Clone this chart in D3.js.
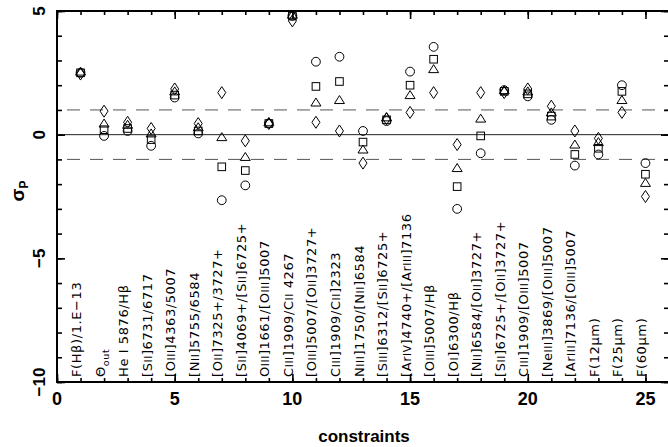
<!DOCTYPE html>
<html>
<head>
<meta charset="utf-8">
<script src="https://cdn.jsdelivr.net/npm/d3@7"></script>
<style>
  body { margin: 0; background: #fff; }
  svg { display: block; font-family: "Liberation Sans", Arial, sans-serif; }
</style>
</head>
<body>
<div id="chart"></div>
<script>
// constraint index 1..25, label for each (braces = small roman numerals, _{} = subscript)
var constraints = d3.range(1, 26);
var labels = [
    "F(Hβ)/1.E−13",
    "Θ_{out}",
    "He I 5876/Hβ",
    "[S{II}]6731/6717",
    "[O{III}]4363/5007",
    "[N{II}]5755/6584",
    "[O{II}]7325+/3727+",
    "[S{II}]4069+/[S{II}]6725+",
    "O{III}]1661/[O{III}]5007",
    "C{III}]1909/C{II} 4267",
    "[O{III}]5007/[O{II}]3727+",
    "C{III}]1909/C{II}]2323",
    "N{III}]1750/[N{II}]6584",
    "[S{III}]6312/[S{II}]6725+",
    "[Ar{IV}]4740+/[Ar{III}]7136",
    "[O{III}]5007/Hβ",
    "[O{I}]6300/Hβ",
    "[N{II}]6584/[O{II}]3727+",
    "[S{II}]6725+/[O{II}]3727+",
    "C{III}]1909/[O{III}]5007",
    "[Ne{III}]3869/[O{III}]5007",
    "[Ar{III}]7136/[O{III}]5007",
    "F(12μm)",
    "F(25μm)",
    "F(60μm)"
];

// sigma_P values for the four models
var circleVals   = [2.5, -0.05, 0.15, -0.45, 1.5, 0.05, -2.65, -2.05, 0.45, 4.8, 2.95, 3.15, 0.15, 0.55, 2.55, 3.55, -3.0, -0.75, 1.8, 1.55, 0.6, -1.25, -0.8, 2.0, -1.15];
var squareVals   = [2.5, 0.2, 0.25, -0.2, 1.6, 0.15, -1.3, -1.45, 0.45, 4.8, 1.95, 2.15, -0.3, 0.6, 2.0, 3.05, -2.1, -0.05, 1.75, 1.65, 0.75, -0.8, -0.55, 1.75, -1.6];
var triangleVals = [2.55, 0.45, 0.4, 0.05, 1.75, 0.3, -0.1, -0.9, 0.5, 4.85, 1.3, 1.4, -0.6, 0.7, 1.6, 2.65, -1.35, 0.65, 1.8, 1.75, 0.9, -0.4, -0.3, 1.4, -1.95];
var diamondVals  = [2.45, 0.95, 0.5, 0.25, 1.85, 0.45, 1.7, -0.25, 0.45, 4.6, 0.5, 0.15, -1.15, 0.65, 0.9, 1.7, -0.4, 1.7, 1.7, 1.85, 1.15, 0.15, -0.15, 0.9, -2.5];

var xTicks = [0, 5, 10, 15, 20, 25];
var yTicks = [5, 0, -5, -10];
var refLines = [-1, 1];

var svgWidth = 668;
var svgHeight = 447;
var margin = { top: 11, right: -1, bottom: 65, left: 57 };

var svg = d3.select("#chart")
    .append("svg")
    .attr("width", svgWidth)
    .attr("height", svgHeight);

var x = d3.scaleLinear().domain([0, 26]).range([margin.left, svgWidth - margin.right]);
var y = d3.scaleLinear().domain([-10, 5]).range([svgHeight - margin.bottom, margin.top]);

var x0 = x.range()[0], x1 = x.range()[1];
var y0 = y.range()[0], y1 = y.range()[1];

// reference lines
svg.selectAll(".dash")
    .data(refLines)
    .enter()
    .append("line")
    .attr("x1", x0).attr("x2", x1)
    .attr("y1", d => y(d)).attr("y2", d => y(d))
    .attr("stroke", "#555")
    .attr("stroke-width", 1)
    .attr("stroke-dasharray", "13,10")
    .attr("stroke-dashoffset", -10);

svg.append("line")
    .attr("x1", x0).attr("x2", x1)
    .attr("y1", y(0)).attr("y2", y(0))
    .attr("stroke", "#222")
    .attr("stroke-width", 1);

// axes: minor + major ticks, all pointing inward
function tickAxis(axis, vals, size) {
    return axis.tickValues(vals).tickSize(size).tickFormat("");
}
var minorX = d3.range(0, 27), minorY = d3.range(-10, 6);
var majorY = [-10, -5, 0, 5];

[[d3.axisBottom, y0, minorX, -4], [d3.axisBottom, y0, xTicks, -8],
 [d3.axisTop, y1, minorX, -4], [d3.axisTop, y1, xTicks, -8]].forEach(function(a) {
    svg.append("g")
        .attr("transform", `translate(0, ${a[1]})`)
        .call(tickAxis(a[0](x), a[2], a[3]))
        .call(g => g.select(".domain").remove())
        .selectAll("line").attr("stroke-width", 1.6);
});
[[d3.axisLeft, x0, minorY, -5], [d3.axisLeft, x0, majorY, -8],
 [d3.axisRight, x1, minorY, -5], [d3.axisRight, x1, majorY, -8]].forEach(function(a) {
    svg.append("g")
        .attr("transform", `translate(${a[1]}, 0)`)
        .call(tickAxis(a[0](y), a[2], a[3]))
        .call(g => g.select(".domain").remove())
        .selectAll("line").attr("stroke-width", 1.6);
});

svg.append("rect")
    .attr("x", x0).attr("y", y1)
    .attr("width", x1 - x0).attr("height", y0 - y1)
    .attr("fill", "none")
    .attr("stroke", "#000")
    .attr("stroke-width", 2);

// tick labels
svg.selectAll(".xlab")
    .data(xTicks)
    .enter()
    .append("text")
    .attr("x", d => x(d))
    .attr("y", y0 + 23)
    .attr("text-anchor", "middle")
    .attr("font-size", 18)
    .attr("font-weight", "bold")
    .text(d => d);

svg.selectAll(".ylab")
    .data(yTicks)
    .enter()
    .append("text")
    .attr("transform", d => `translate(${x0 - 12}, ${y(d)}) rotate(-90)`)
    .attr("text-anchor", "middle")
    .attr("font-size", 17)
    .attr("font-weight", "bold")
    .text(d => d < 0 ? "\u2212" + Math.abs(d) : d);

// axis titles
svg.append("text")
    .attr("x", 364)
    .attr("y", 442)
    .attr("text-anchor", "middle")
    .attr("font-size", 17)
    .attr("font-weight", "bold")
    .text("constraints");

var yTitle = svg.append("text")
    .attr("transform", "translate(24, 191) rotate(-90)")
    .attr("text-anchor", "middle")
    .attr("font-size", 19)
    .attr("font-weight", "bold");
yTitle.append("tspan").text("σ");
yTitle.append("tspan").attr("font-size", 12).attr("dy", 4).text("P");

// constraint labels, vertical
function addRich(sel, str) {
    var parts = str.split(/(_\{[^}]*\}|\{[^}]*\})/);
    parts.forEach(function(p) {
        if (!p) return;
        if (p[0] === "_") {
            sel.append("tspan").attr("font-size", 9.5).attr("dy", 4).text(p.slice(2, -1));
        } else if (p[0] === "{") {
            sel.append("tspan").attr("font-size", 10.5).text(p.slice(1, -1));
        } else {
            sel.append("tspan").text(p);
        }
    });
}

svg.selectAll(".clab")
    .data(constraints)
    .enter()
    .append("text")
    .attr("transform", d => `translate(${x(d) + 0.5}, ${y0 - 5}) rotate(-90)`)
    .attr("font-family", "DejaVu Sans, sans-serif")
    .attr("font-size", 13)
    .attr("letter-spacing", 0.6)
    .attr("fill", "#000")
    .each(function(d, i) { addRich(d3.select(this), labels[i]); });

// markers
var mk = svg.append("g")
    .attr("fill", "none")
    .attr("stroke", "#000")
    .attr("stroke-width", 1);

mk.selectAll(".c")
    .data(circleVals)
    .enter()
    .append("circle")
    .attr("cx", (d, i) => x(constraints[i]))
    .attr("cy", d => y(d))
    .attr("r", 4.4);

mk.selectAll(".s")
    .data(squareVals)
    .enter()
    .append("rect")
    .attr("x", (d, i) => x(constraints[i]) - 3.8)
    .attr("y", d => y(d) - 3.8)
    .attr("width", 7.6)
    .attr("height", 7.6);

mk.selectAll(".t")
    .data(triangleVals)
    .enter()
    .append("path")
    .attr("transform", (d, i) => `translate(${x(constraints[i])}, ${y(d)})`)
    .attr("d", "M0,-4.5L5,3.5L-5,3.5Z");

mk.selectAll(".d")
    .data(diamondVals)
    .enter()
    .append("path")
    .attr("transform", (d, i) => `translate(${x(constraints[i])}, ${y(d)})`)
    .attr("d", "M0,-6L4,0L0,6L-4,0Z");
</script>
</body>
</html>
